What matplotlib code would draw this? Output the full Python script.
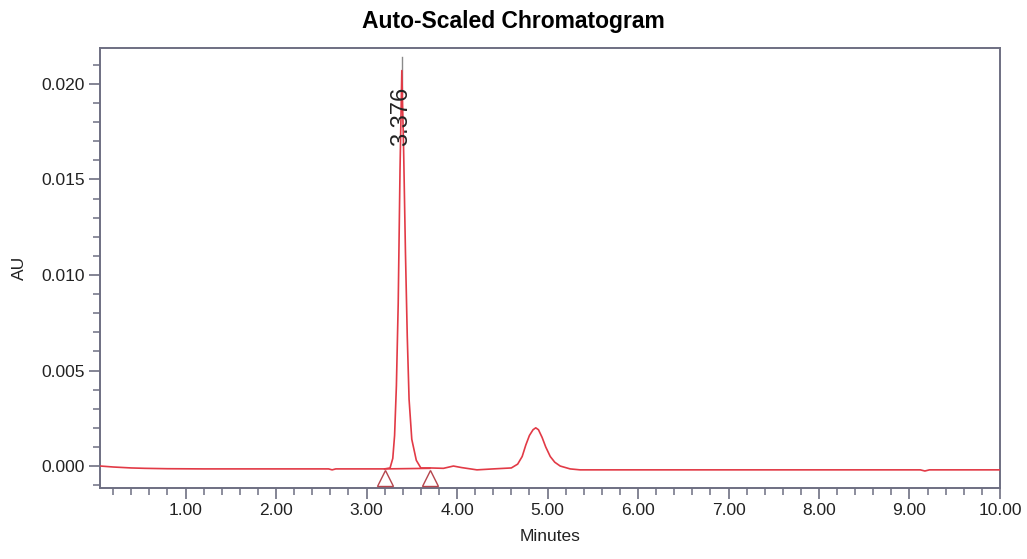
import matplotlib
matplotlib.use("Agg")
import matplotlib.pyplot as plt
from matplotlib.ticker import MultipleLocator, FormatStrFormatter

plt.rcParams['font.family'] = ['Liberation Sans', 'DejaVu Sans']

times = [0.06, 0.20, 0.40, 0.55, 0.80, 1.20, 1.60, 2.00, 2.40, 2.58, 2.62, 2.66, 2.90, 3.10,
         3.20, 3.26, 3.29, 3.31, 3.33, 3.35, 3.37, 3.39, 3.41, 3.43, 3.45, 3.47, 3.50, 3.55,
         3.60, 3.70,
         3.85, 3.96, 4.05, 4.22, 4.40, 4.60, 4.67, 4.72, 4.76, 4.80, 4.84, 4.87, 4.90, 4.94,
         4.98, 5.03, 5.08, 5.14, 5.25, 5.36, 5.60, 6.00, 6.50, 7.00, 7.50, 8.00, 8.50, 9.00,
         9.12, 9.17, 9.22, 9.50, 10.0]
au = [0.0000, -0.00005, -0.0001, -0.00012, -0.00014, -0.00015, -0.00015, -0.00015, -0.00015,
      -0.00015, -0.0002, -0.00015, -0.00015, -0.00015,
      -0.00015, -0.0001, 0.0004, 0.0016, 0.0042, 0.0085, 0.0155, 0.0207, 0.0165, 0.0112,
      0.0068, 0.0035, 0.0014, 0.0003,
      -0.0001, -0.0001,
      -0.00012, 0.0000, -0.00008, -0.0002, -0.00015, -0.0001, 0.0001, 0.0005, 0.0011, 0.0016,
      0.0019, 0.0020, 0.0019, 0.0015,
      0.0010, 0.0005, 0.0002, 0.0000, -0.00015, -0.0002, -0.0002, -0.0002, -0.0002, -0.0002,
      -0.0002, -0.0002, -0.0002, -0.0002,
      -0.0002, -0.00026, -0.0002, -0.0002, -0.0002]

peak_x = 3.39
peak_top = 0.0214
peak_label = "3.376"
marks_t = [3.20, 3.70]
marks_base = [-0.00015, -0.00012]

fig = plt.figure(figsize=(10.27, 5.59), dpi=100)
ax = fig.add_axes([0.0974, 0.127, 0.8763, 0.787])

ax.plot(times, au, color='#e23a46', lw=1.2, zorder=3)
ax.plot([peak_x, peak_x], [0.0195, peak_top], color='#8a8a8a', lw=1.0, zorder=2)
ax.plot(marks_t, marks_base, color='#e23a46', lw=1.2, zorder=3)
ax.plot(marks_t, [-0.00062, -0.00062], linestyle='none', marker='^', markersize=12,
        markerfacecolor='none', markeredgecolor='#b5444c', markeredgewidth=1.0, zorder=4)
ax.text(peak_x - 0.01, 0.0183, peak_label, rotation=90, ha='center', va='center',
        fontsize=17, color='#222222', zorder=5)

ax.set_xlim(0.055, 10.0)
ax.set_ylim(-0.00115, 0.02188)
ax.xaxis.set_major_locator(MultipleLocator(1.0))
ax.xaxis.set_minor_locator(MultipleLocator(0.2))
ax.yaxis.set_major_locator(MultipleLocator(0.005))
ax.yaxis.set_minor_locator(MultipleLocator(0.001))
ax.xaxis.set_major_formatter(FormatStrFormatter('%.2f'))
ax.yaxis.set_major_formatter(FormatStrFormatter('%.3f'))

spine_col = '#6e6f82'
for s in ax.spines.values():
    s.set_color(spine_col)
    s.set_linewidth(1.4)
ax.tick_params(which='major', direction='out', length=8, width=1.2, color=spine_col,
               labelsize=12.5, labelcolor='#222222', pad=3)
ax.tick_params(which='minor', direction='out', length=5, width=1.1, color=spine_col)

ax.set_xlabel("Minutes", fontsize=12.5, color='#222222', labelpad=8)
ax.set_ylabel("AU", fontsize=12.5, color='#222222', labelpad=10)
fig.suptitle("Auto-Scaled Chromatogram", fontsize=16.5, fontweight='bold', y=0.982)

fig.savefig("out.png", dpi=100)
